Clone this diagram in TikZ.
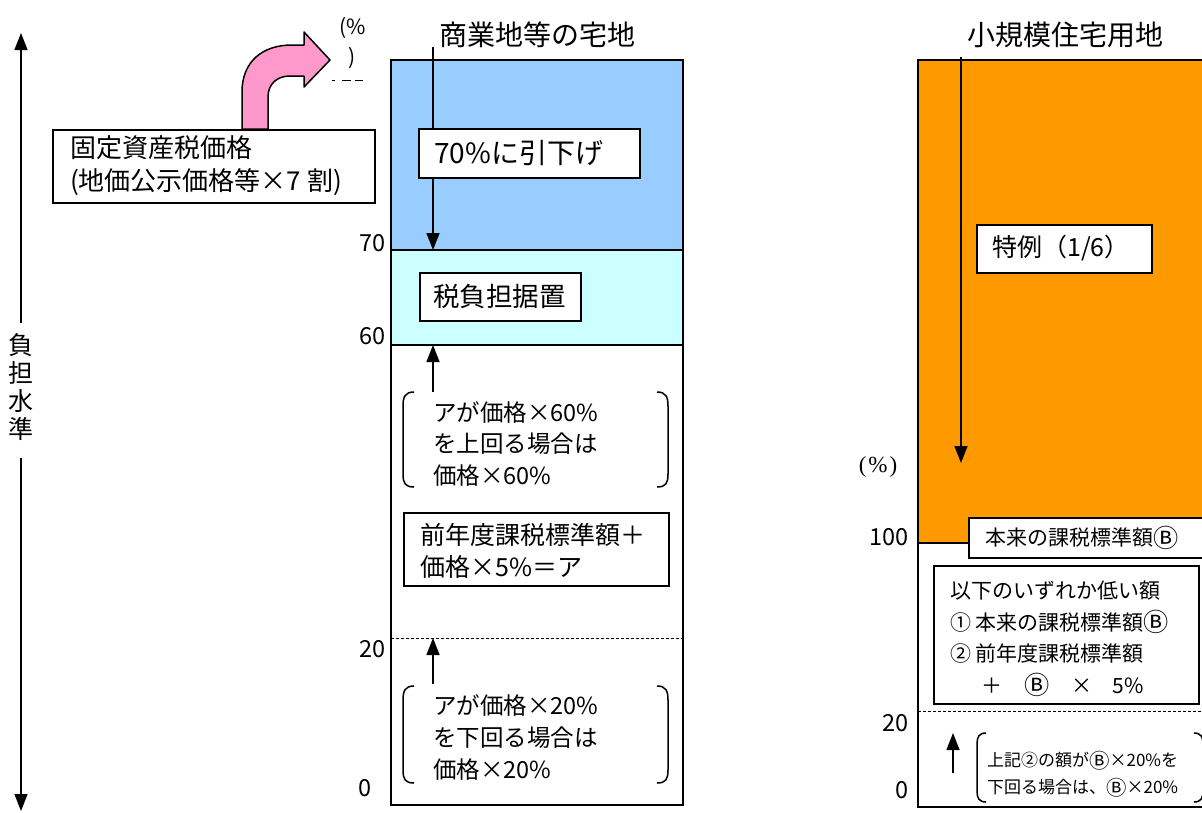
\documentclass[tikz,border=0pt]{standalone}
\usepackage{fontspec}
\setmainfont{Noto Sans CJK JP}
\newfontfamily\serifpct{Liberation Serif}
\newcommand\cB{\raisebox{-0.08em}{\scalebox{1.2}{Ⓑ}}}
\usetikzlibrary{arrows.meta}
\definecolor{pinkA}{HTML}{FF99CC}
\definecolor{blueA}{HTML}{99CCFF}
\definecolor{cyanA}{HTML}{CCFFFF}
\definecolor{orangeA}{HTML}{FF9900}
\tikzset{
  colbox/.style={draw=black, line width=2pt},
  tbox/.style={draw=black, fill=white, line width=1.5pt, inner sep=0pt, anchor=north west},
  txt/.style={inner sep=0pt, anchor=west, align=left},
  lbl/.style={inner sep=0pt, anchor=east, font=\fontsize{23.5}{23.5}\selectfont},
  arr/.style={line width=1.5pt, -{Triangle[length=17pt,width=13pt]}},
  brk/.style={line width=1.5pt},
  dline/.style={line width=0.8pt, dash pattern=on 3pt off 2pt},
}
\begin{document}
\begin{tikzpicture}[x=1pt,y=-1pt]
\useasboundingbox (0,0) rectangle (1202,812);
\clip (0,0) rectangle (1202,812);
\fill[white] (0,0) rectangle (1202,812);

% ---------- left axis ----------
\node[inner sep=0pt, align=center, font=\fontsize{25}{28}\selectfont] (vt) at (21,387) {負\\担\\水\\準};
\coordinate (axTop) at (21,33);
\coordinate (axU) at (21,323);
\coordinate (axL) at (21,458);
\coordinate (axBot) at (21,811);
\draw[arr] (axU) -- (axTop);
\draw[arr] (axL) -- (axBot);

% ---------- pink bent arrow ----------
\draw[line width=1.5pt, fill=pinkA, line join=round]
  (242,129) -- (242,92) .. controls (242,62) and (262,45) .. (292,45)
  -- (304,45) -- (304,32) -- (330,60) -- (304,87) -- (304,76) -- (290,76)
  .. controls (277,76) and (268,84) .. (268,97) -- (268,129) -- cycle;

% left box
\node[tbox, minimum width=322pt, minimum height=73pt] (kotei) at (52,129) {};
\node[txt, font=\fontsize{26}{33}\selectfont] (koteiT) at (70,166) {固定資産税価格\\(地価公示価格等×7 割)};

% top-left (%) and clipped 100
\node[inner sep=0pt, font=\fontsize{21}{21}\selectfont] (pctA) at (353,28) {(\%};
\node[inner sep=0pt, font=\fontsize{21}{21}\selectfont] (pctB) at (352,58) {)};
\draw[line width=1pt] (332,80) -- (335,80);
\draw[line width=1pt] (342,80) -- (351,80);
\draw[line width=1pt] (355,80) -- (363,80);

% ---------- middle column ----------
\node[inner sep=0pt, font=\fontsize{28}{28}\selectfont] (titleM) at (537,35) {商業地等の宅地};
\fill[blueA] (391,60) rectangle (683,250);
\fill[cyanA] (391,250) rectangle (683,345);
\draw[colbox] (391,60) rectangle (683,805);
\draw[colbox] (391,250) -- (683,250);
\draw[colbox] (391,345) -- (683,345);
\draw[dline] (391,638) -- (683,638);

\node[lbl] (l70) at (386,243) {70};
\node[lbl] (l60) at (386,336) {60};
\node[lbl] (l20) at (386,649) {20};
\node[inner sep=0pt, font=\fontsize{23.5}{23.5}\selectfont] (l0) at (365,788) {0};

\coordinate (mStart) at (433,47);
\coordinate (m70) at (433,250);
\draw[arr] (mStart) -- (m70);
\node[tbox, minimum width=221pt, minimum height=49pt] (b70) at (418,128) {};
\node[txt, font=\fontsize{28}{28}\selectfont] (b70T) at (434,153) {70\%に引下げ};

\node[tbox, minimum width=161pt, minimum height=48pt] (bsue) at (419,272) {};
\node[txt, font=\fontsize{26.5}{26.5}\selectfont] (bsueT) at (433,296) {税負担据置};

% upper bracket
\coordinate (u1s) at (433,392);
\coordinate (u1e) at (433,345);
\draw[arr] (u1s) -- (u1e);
\draw[brk] (414,392) .. controls (405,392) and (403,397) .. (403,406) -- (403,474) .. controls (403,483) and (405,487) .. (414,487);
\draw[brk] (657,392) .. controls (666,392) and (668,397) .. (668,406) -- (668,474) .. controls (668,483) and (666,487) .. (657,487);
\node[txt, font=\fontsize{23.5}{31.5}\selectfont] (br1T) at (433,444) {アが価格×60\%\\を上回る場合は\\価格×60\%};

% middle box
\node[tbox, minimum width=265pt, minimum height=73pt] (bzen) at (403,512) {};
\node[txt, font=\fontsize{25}{32}\selectfont] (bzenT) at (420,551) {前年度課税標準額＋\\価格×5\%＝ア};

% lower bracket
\coordinate (u2s) at (433,684);
\coordinate (u2e) at (433,638);
\draw[arr] (u2s) -- (u2e);
\draw[brk] (414,686) .. controls (405,686) and (403,691) .. (403,700) -- (403,770) .. controls (403,779) and (405,783) .. (414,783);
\draw[brk] (657,686) .. controls (666,686) and (668,691) .. (668,700) -- (668,770) .. controls (668,779) and (666,783) .. (657,783);
\node[txt, font=\fontsize{23.5}{32}\selectfont] (br2T) at (433,737) {アが価格×20\%\\を下回る場合は\\価格×20\%};

% ---------- right column ----------
\node[inner sep=0pt, font=\fontsize{28}{28}\selectfont] (titleR) at (1065,35) {小規模住宅用地};
\fill[orangeA] (918,60) rectangle (1215,543);
\draw[colbox] (918,60) rectangle (1215,807);
\draw[colbox] (918,543) -- (1215,543);
\draw[dline] (918,711) -- (1215,711);

\coordinate (rStart) at (961,57);
\coordinate (rEnd) at (961,463);
\draw[arr] (rStart) -- (rEnd);
\node[tbox, minimum width=175pt, minimum height=48pt] (btok) at (976,224) {};
\node[txt, font=\fontsize{25}{25}\selectfont] (btokT) at (992,248) {特例（1/6）};

\node[inner sep=0pt, font=\serifpct\fontsize{23}{23}\selectfont] (rpct) at (878,467) {(\hspace{2pt}\%\hspace{2pt})};
\node[lbl] (r100) at (909,537) {100};
\node[lbl] (r20) at (909,723) {20};
\node[lbl] (r0) at (909,790) {0};

\node[tbox, minimum width=247pt, minimum height=40pt] (bhon) at (968,517) {};
\node[txt, font=\fontsize{21}{21}\selectfont] (bhonT) at (985,538) {本来の課税標準額\cB};

\node[tbox, minimum width=265pt, minimum height=138pt] (bika) at (933,565) {};
\node[txt, font=\fontsize{21}{31.5}\selectfont] (bikaT) at (950,639) {以下のいずれか低い額\\① 本来の課税標準額\cB\\② 前年度課税標準額\\\hspace*{31pt}＋\hspace{22pt}\cB\hspace{22pt}×\hspace{20pt}5\%};

\coordinate (u3s) at (953,773);
\coordinate (u3e) at (953,733);
\draw[arr] (u3s) -- (u3e);
\draw[brk] (986,733) .. controls (979,733) and (977,737) .. (977,744) -- (977,791) .. controls (977,798) and (979,802) .. (986,802);
\draw[brk] (1194,733) .. controls (1201,733) and (1203,737) .. (1203,744) -- (1203,791) .. controls (1203,798) and (1201,802) .. (1194,802);
\node[txt, font=\fontsize{17}{27}\selectfont] (br3T) at (987,774) {上記②の額が\cB×20\%を\\下回る場合は、\cB×20\%};
\end{tikzpicture}
\end{document}
